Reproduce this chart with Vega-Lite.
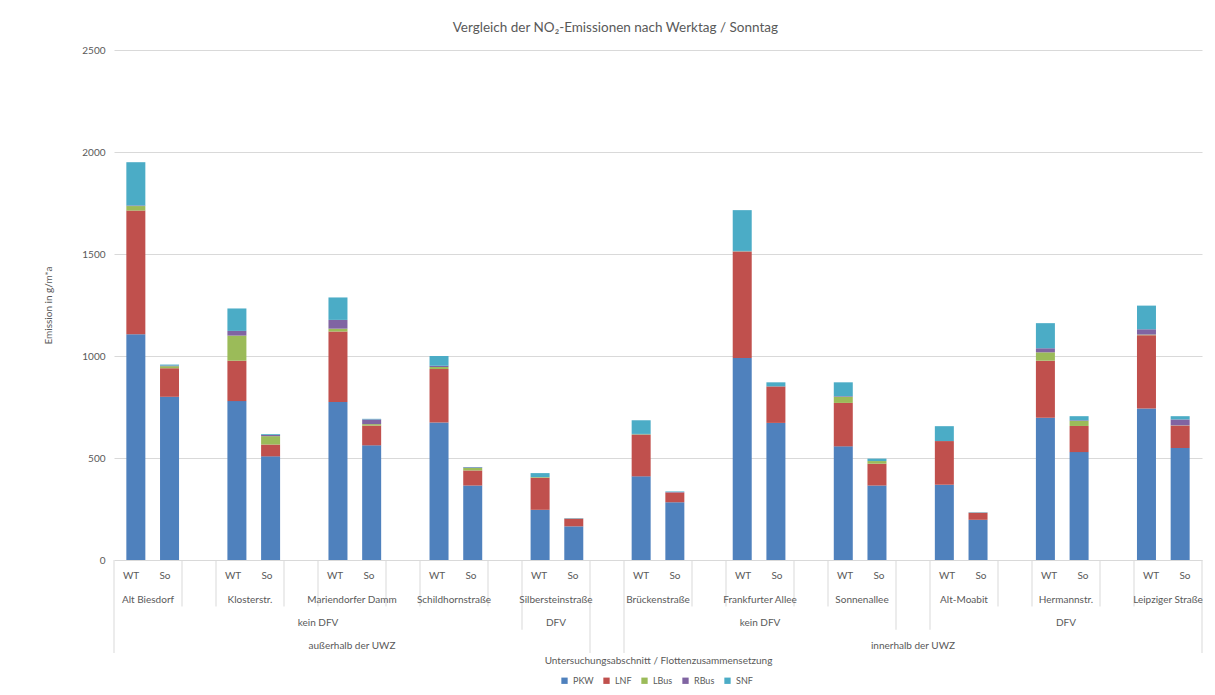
{
  "$schema": "https://vega.github.io/schema/vega-lite/v6.json",
  "background": "white",
  "padding": {"left": 43, "top": 20, "right": 5, "bottom": 2},
  "title": {"text": "Vergleich der NO₂-Emissionen nach Werktag / Sonntag", "font": "Lato", "fontSize": 13.5, "fontWeight": "normal", "color": "#595959", "anchor": "middle", "frame": "bounds", "offset": 11, "dx": -8},
  "datasets": {
    "bars": [
      {"street": "Alt Biesdorf", "day": "WT", "slot": 0, "PKW": 1107, "LNF": 606, "LBus": 22, "RBus": 3, "SNF": 212},
      {"street": "Alt Biesdorf", "day": "So", "slot": 1, "PKW": 800, "LNF": 140, "LBus": 10, "RBus": 3, "SNF": 5},
      {"street": "Klosterstr.", "day": "WT", "slot": 3, "PKW": 779, "LNF": 198, "LBus": 123, "RBus": 23, "SNF": 110},
      {"street": "Klosterstr.", "day": "So", "slot": 4, "PKW": 508, "LNF": 58, "LBus": 41, "RBus": 6, "SNF": 4},
      {"street": "Mariendorfer Damm", "day": "WT", "slot": 6, "PKW": 775, "LNF": 345, "LBus": 14, "RBus": 43, "SNF": 110},
      {"street": "Mariendorfer Damm", "day": "So", "slot": 7, "PKW": 562, "LNF": 97, "LBus": 7, "RBus": 23, "SNF": 3},
      {"street": "Schildhornstraße", "day": "WT", "slot": 9, "PKW": 674, "LNF": 262, "LBus": 10, "RBus": 6, "SNF": 48},
      {"street": "Schildhornstraße", "day": "So", "slot": 10, "PKW": 365, "LNF": 74, "LBus": 12, "RBus": 3, "SNF": 2},
      {"street": "Silbersteinstraße", "day": "WT", "slot": 12, "PKW": 246, "LNF": 157, "LBus": 3, "RBus": 0, "SNF": 20},
      {"street": "Silbersteinstraße", "day": "So", "slot": 13, "PKW": 165, "LNF": 38, "LBus": 0, "RBus": 0, "SNF": 2},
      {"street": "Brückenstraße", "day": "WT", "slot": 15, "PKW": 410, "LNF": 203, "LBus": 3, "RBus": 2, "SNF": 67},
      {"street": "Brückenstraße", "day": "So", "slot": 16, "PKW": 283, "LNF": 48, "LBus": 0, "RBus": 2, "SNF": 3},
      {"street": "Frankfurter Allee", "day": "WT", "slot": 18, "PKW": 990, "LNF": 521, "LBus": 2, "RBus": 2, "SNF": 200},
      {"street": "Frankfurter Allee", "day": "So", "slot": 19, "PKW": 672, "LNF": 179, "LBus": 0, "RBus": 0, "SNF": 20},
      {"street": "Sonnenallee", "day": "WT", "slot": 21, "PKW": 557, "LNF": 213, "LBus": 30, "RBus": 3, "SNF": 68},
      {"street": "Sonnenallee", "day": "So", "slot": 22, "PKW": 365, "LNF": 107, "LBus": 13, "RBus": 0, "SNF": 12},
      {"street": "Alt-Moabit", "day": "WT", "slot": 24, "PKW": 369, "LNF": 214, "LBus": 0, "RBus": 0, "SNF": 73},
      {"street": "Alt-Moabit", "day": "So", "slot": 25, "PKW": 197, "LNF": 35, "LBus": 0, "RBus": 0, "SNF": 2},
      {"street": "Hermannstr.", "day": "WT", "slot": 27, "PKW": 697, "LNF": 280, "LBus": 41, "RBus": 20, "SNF": 123},
      {"street": "Hermannstr.", "day": "So", "slot": 28, "PKW": 529, "LNF": 128, "LBus": 25, "RBus": 3, "SNF": 20},
      {"street": "Leipziger Straße", "day": "WT", "slot": 30, "PKW": 743, "LNF": 359, "LBus": 3, "RBus": 26, "SNF": 116},
      {"street": "Leipziger Straße", "day": "So", "slot": 31, "PKW": 549, "LNF": 110, "LBus": 1, "RBus": 29, "SNF": 16}
    ],
    "labels": [
      {"label": "WT", "row": 1, "start": 0, "end": 0},
      {"label": "So", "row": 1, "start": 1, "end": 1},
      {"label": "WT", "row": 1, "start": 3, "end": 3},
      {"label": "So", "row": 1, "start": 4, "end": 4},
      {"label": "WT", "row": 1, "start": 6, "end": 6},
      {"label": "So", "row": 1, "start": 7, "end": 7},
      {"label": "WT", "row": 1, "start": 9, "end": 9},
      {"label": "So", "row": 1, "start": 10, "end": 10},
      {"label": "WT", "row": 1, "start": 12, "end": 12},
      {"label": "So", "row": 1, "start": 13, "end": 13},
      {"label": "WT", "row": 1, "start": 15, "end": 15},
      {"label": "So", "row": 1, "start": 16, "end": 16},
      {"label": "WT", "row": 1, "start": 18, "end": 18},
      {"label": "So", "row": 1, "start": 19, "end": 19},
      {"label": "WT", "row": 1, "start": 21, "end": 21},
      {"label": "So", "row": 1, "start": 22, "end": 22},
      {"label": "WT", "row": 1, "start": 24, "end": 24},
      {"label": "So", "row": 1, "start": 25, "end": 25},
      {"label": "WT", "row": 1, "start": 27, "end": 27},
      {"label": "So", "row": 1, "start": 28, "end": 28},
      {"label": "WT", "row": 1, "start": 30, "end": 30},
      {"label": "So", "row": 1, "start": 31, "end": 31},
      {"label": "Alt Biesdorf", "row": 2, "start": 0, "end": 1},
      {"label": "Klosterstr.", "row": 2, "start": 3, "end": 4},
      {"label": "Mariendorfer Damm", "row": 2, "start": 6, "end": 7},
      {"label": "Schildhornstraße", "row": 2, "start": 9, "end": 10},
      {"label": "Silbersteinstraße", "row": 2, "start": 12, "end": 13},
      {"label": "Brückenstraße", "row": 2, "start": 15, "end": 16},
      {"label": "Frankfurter Allee", "row": 2, "start": 18, "end": 19},
      {"label": "Sonnenallee", "row": 2, "start": 21, "end": 22},
      {"label": "Alt-Moabit", "row": 2, "start": 24, "end": 25},
      {"label": "Hermannstr.", "row": 2, "start": 27, "end": 28},
      {"label": "Leipziger Straße", "row": 2, "start": 30, "end": 31},
      {"label": "kein DFV", "row": 3, "start": 0, "end": 11},
      {"label": "DFV", "row": 3, "start": 12, "end": 13},
      {"label": "kein DFV", "row": 3, "start": 15, "end": 22},
      {"label": "DFV", "row": 3, "start": 24, "end": 31},
      {"label": "außerhalb der UWZ", "row": 4, "start": 0, "end": 13},
      {"label": "innerhalb der UWZ", "row": 4, "start": 15, "end": 31}
    ],
    "seps": [
      {"pos": -0.5, "depth": 4},
      {"pos": 1.5, "depth": 2},
      {"pos": 2.5, "depth": 2},
      {"pos": 4.5, "depth": 2},
      {"pos": 5.5, "depth": 2},
      {"pos": 7.5, "depth": 2},
      {"pos": 8.5, "depth": 2},
      {"pos": 10.5, "depth": 2},
      {"pos": 11.5, "depth": 3},
      {"pos": 13.5, "depth": 4},
      {"pos": 14.5, "depth": 4},
      {"pos": 16.5, "depth": 2},
      {"pos": 17.5, "depth": 2},
      {"pos": 19.5, "depth": 2},
      {"pos": 20.5, "depth": 2},
      {"pos": 22.5, "depth": 3},
      {"pos": 23.5, "depth": 3},
      {"pos": 25.5, "depth": 2},
      {"pos": 26.5, "depth": 2},
      {"pos": 28.5, "depth": 2},
      {"pos": 29.5, "depth": 2},
      {"pos": 31.5, "depth": 4}
    ]
  },
  "spacing": 0,
  "bounds": "flush",
  "vconcat": [
    {
      "width": 1088,
      "height": 510,
      "data": {"name": "bars"},
      "transform": [
        {"fold": ["PKW", "LNF", "LBus", "RBus", "SNF"], "as": ["Typ", "Emission"]},
        {"calculate": "indexof(['PKW','LNF','LBus','RBus','SNF'], datum.Typ)", "as": "stackOrder"}
      ],
      "mark": {"type": "bar", "width": 19},
      "encoding": {
        "x": {"field": "slot", "type": "quantitative", "scale": {"domain": [-0.5, 31.5], "nice": false, "zero": false}, "axis": null},
        "y": {
          "field": "Emission", "type": "quantitative", "stack": "zero",
          "scale": {"domain": [0, 2500], "nice": false},
          "axis": {"values": [0, 500, 1000, 1500, 2000, 2500], "format": "d", "title": "Emission in g/m*a", "titleFont": "Lato", "titleFontSize": 10, "titleFontWeight": "normal", "titleColor": "#595959", "titlePadding": 28, "labelFont": "Lato", "labelFontSize": 10, "labelColor": "#595959", "labelPadding": 9, "ticks": false, "domain": false, "grid": true, "gridColor": "#d9d9d9", "gridWidth": 1}
        },
        "color": {
          "field": "Typ", "type": "nominal",
          "scale": {"domain": ["PKW", "LNF", "LBus", "RBus", "SNF"], "range": ["#4F81BD", "#C0504D", "#9BBB59", "#8064A2", "#4BACC6"]},
          "legend": {"orient": "none", "legendX": 446, "legendY": 626, "direction": "horizontal", "title": null, "symbolType": "square", "symbolSize": 40, "symbolStrokeWidth": 0, "labelFont": "Lato", "labelFontSize": 9, "labelColor": "#595959", "columnPadding": 8}
        },
        "order": {"field": "stackOrder", "type": "quantitative"}
      }
    },
    {
      "width": 1088,
      "height": 93,
      "layer": [
        {
          "data": {"name": "seps"},
          "mark": {"type": "rule", "color": "#d9d9d9", "strokeWidth": 1},
          "encoding": {
            "x": {"field": "pos", "type": "quantitative", "scale": {"domain": [-0.5, 31.5], "nice": false, "zero": false},
                  "axis": {"title": "Untersuchungsabschnitt / Flottenzusammensetzung", "labels": false, "ticks": false, "domain": false, "grid": false, "titleFont": "Lato", "titleFontSize": 10, "titleFontWeight": "normal", "titleColor": "#595959", "titlePadding": 2}},
            "y": {"field": "depth", "type": "quantitative", "scale": {"domain": [0, 4], "reverse": true, "nice": false, "zero": false}, "axis": null},
            "y2": {"datum": 0}
          }
        },
        {
          "data": {"name": "labels"},
          "transform": [{"calculate": "(datum.start + datum.end) / 2", "as": "mid"}],
          "mark": {"type": "text", "font": "Lato", "fontSize": 10, "color": "#595959", "baseline": "middle", "align": "center", "dy": -7},
          "encoding": {
            "x": {"field": "mid", "type": "quantitative"},
            "y": {"field": "row", "type": "quantitative"},
            "text": {"field": "label"}
          }
        }
      ]
    }
  ],
  "config": {"view": {"stroke": null}}
}
